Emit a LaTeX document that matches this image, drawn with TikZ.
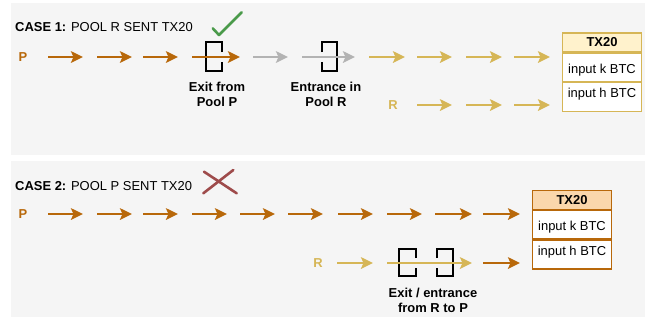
\documentclass[tikz,border=0pt]{standalone}
\usepackage{fontspec}
\setmainfont{Liberation Sans}
\usetikzlibrary{arrows.meta,positioning}

\definecolor{panelgray}{HTML}{F5F5F5}
\definecolor{poolP}{HTML}{B8680A}
\definecolor{poolR}{HTML}{D6B656}
\definecolor{lostgray}{HTML}{B3B3B3}
\definecolor{okgreen}{HTML}{4A9A4A}
\definecolor{badred}{HTML}{9E4B4B}
\definecolor{txyellow}{HTML}{FFF2CC}
\definecolor{txorange}{HTML}{FAD7AC}

\tikzset{
  flowP/.style={draw=poolP, line width=2.5bp, -{Stealth[length=12bp,width=11.5bp,inset=2.5bp]}},
  flowR/.style={flowP, draw=poolR},
  flowX/.style={flowP, draw=lostgray},
  gate/.style={line width=2.3bp, line join=miter, black},
  poolname/.style={font=\fontsize{13}{15}\selectfont\bfseries},
  gatelabel/.style={align=center, font=\fontsize{13}{15}\selectfont\bfseries},
  txhead/.style={draw, line width=1.3bp, minimum width=79bp, minimum height=19bp, inner sep=0pt,
    font=\fontsize{13}{15}\selectfont\bfseries},
  txrowk/.style={draw, line width=1.3bp, fill=white, minimum width=79bp, inner xsep=0pt, inner ysep=0pt,
    text height=20bp, text depth=8bp},
  txrowh/.style={txrowk, text height=15bp, text depth=14bp}
}

\begin{document}
\begin{tikzpicture}[x=1bp, y=-1bp, font=\fontsize{13}{15}\selectfont]
  \fill[white] (0,0) rectangle (655,321);
  \useasboundingbox (0,0) rectangle (655,321);

  % Panels
  \fill[panelgray] (11,3) rectangle (645,155);
  \fill[panelgray] (11,161) rectangle (645,317);

  % ---------- Case 1 ----------
  \node[anchor=west, inner sep=0pt] (title1) at (15,27) {\textbf{CASE 1:} POOL R SENT TX20};
  \draw[okgreen, line width=2.6bp, line cap=round, line join=round] (212.7,28.3) -- (219,35) -- (241.7,12.3);

  \node[poolname, text=poolP] (p1) at (23,57) {P};
  \node[poolname, text=poolR] (r1) at (393,105) {R};

  % gates
  \draw[gate] (222,52) -- (222,42) -- (206,42) -- (206,71) -- (222,71) -- (222,62);
  \draw[gate] (322,52) -- (322,42) -- (337,42) -- (337,71) -- (322,71) -- (322,62);
  \node[gatelabel] (exitP) at (217,94.5) {Exit from\\Pool P};
  \node[gatelabel] (entryR) at (326,94.5) {Entrance in\\Pool R};

  % flow of P, then R
  \draw[flowP] (48,57) -- (83,57);
  \draw[flowP] (97,57) -- (132,57);
  \draw[flowP] (143,57) -- (178,57);
  \draw[flowP] (192,57) -- (240,57);
  \draw[flowX] (253,57) -- (288,57);
  \draw[flowX] (302,57) -- (355,57);
  \draw[flowR] (369,57) -- (405,57);
  \draw[flowR] (417,57) -- (452,57);
  \draw[flowR] (466,57) -- (502,57);
  \draw[flowR] (514,57) -- (550,57);

  \draw[flowR] (417,105) -- (452,105);
  \draw[flowR] (466,105) -- (502,105);
  \draw[flowR] (514,105) -- (550,105);

  % transaction
  \node[txhead, draw=poolR, fill=txyellow] (tx1) at (602,42.5) {TX20};
  \node[txrowk, draw=poolR, below=0pt of tx1] (tx1k) {input k BTC};
  \node[txrowh, draw=poolR, below=0pt of tx1k] (tx1h) {input h BTC};

  % ---------- Case 2 ----------
  \node[anchor=west, inner sep=0pt] (title2) at (15,186) {\textbf{CASE 2:} POOL P SENT TX20};
  \draw[badred, line width=2.6bp, line cap=round] (204,171.7) -- (236.7,193.3);
  \draw[badred, line width=2.6bp, line cap=round] (233.3,170) -- (203.3,193.3);

  \node[poolname, text=poolP] (p2) at (23,214) {P};
  \node[poolname, text=poolR] (r2) at (318,263) {R};

  % gates
  \draw[gate] (416,258) -- (416,249) -- (399,249) -- (399,276) -- (416,276) -- (416,268);
  \draw[gate] (437,258) -- (437,249) -- (453,249) -- (453,276) -- (437,276) -- (437,268);
  \node[gatelabel] (swapRP) at (433,300.5) {Exit / entrance\\from R to P};

  % flow of P
  \draw[flowP] (48,214) -- (83,214);
  \draw[flowP] (97,214) -- (132,214);
  \draw[flowP] (143,214) -- (178,214);
  \draw[flowP] (192,214) -- (227,214);
  \draw[flowP] (240,214) -- (275,214);
  \draw[flowP] (288,214) -- (323,214);
  \draw[flowP] (338,214) -- (373,214);
  \draw[flowP] (387,214) -- (422,214);
  \draw[flowP] (435,214) -- (472,214);
  \draw[flowP] (483,214) -- (520,214);

  % flow of R, turned into P
  \draw[flowR] (337,263) -- (373,263);
  \draw[flowR] (387,263) -- (472,263);
  \draw[flowP] (483,263) -- (520,263);

  % transaction
  \node[txhead, draw=poolP, fill=txorange] (tx2) at (572,200) {TX20};
  \node[txrowk, draw=poolP, below=0pt of tx2] (tx2k) {input k BTC};
  \node[txrowh, draw=poolP, below=0pt of tx2k] (tx2h) {input h BTC};

\end{tikzpicture}
\end{document}
